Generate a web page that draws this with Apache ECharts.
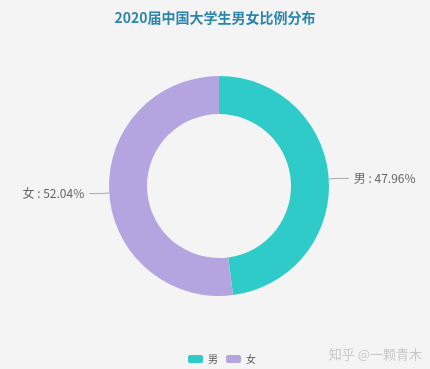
<!DOCTYPE html>
<html><head><meta charset="utf-8">
<script src="https://cdn.jsdelivr.net/npm/echarts@6/dist/echarts.min.js"></script>
<style>html,body{margin:0;padding:0;background:#f4f4f4;}#c{width:430px;height:369px;}</style>
</head><body><div id="c"></div>
<script>
const titleText = '2020届中国大学生男女比例分布';
const categories = ['男', '女'];
const values = [47.96, 52.04];
const colors = ['#2fcbc9', '#b4a5e0'];

const chart = echarts.init(document.getElementById('c'));
chart.setOption({
  backgroundColor: '#f4f4f4',
  title: {
    text: titleText, left: 'center', top: 6,
    textStyle: { color: '#2a86ad', fontSize: 14, fontWeight: 'bold', fontFamily: 'Noto Sans CJK SC' }
  },
  legend: {
    data: categories, bottom: 0, left: 183,
    itemWidth: 15, itemHeight: 8, itemGap: 8,
    textStyle: { color: '#555', fontSize: 10, fontFamily: 'Noto Sans CJK SC' }
  },
  graphic: [{
    type: 'text', right: 8, bottom: 8,
    style: { text: '知乎 @一颗青木', fill: '#c8c8c8', font: '13px "Noto Sans CJK SC"' }
  }],
  series: [{
    type: 'pie',
    center: [219, 186],
    radius: [72, 110],
    startAngle: 90,
    clockwise: true,
    avoidLabelOverlap: false,
    color: colors,
    label: {
      formatter: '{b} : {d}%', color: '#666', fontSize: 12, fontFamily: 'Noto Sans CJK SC'
    },
    labelLine: { length: 8, length2: 12, lineStyle: { color: '#aaa' } },
    data: categories.map((c, i) => ({ name: c, value: values[i] }))
  }]
});
</script></body></html>
